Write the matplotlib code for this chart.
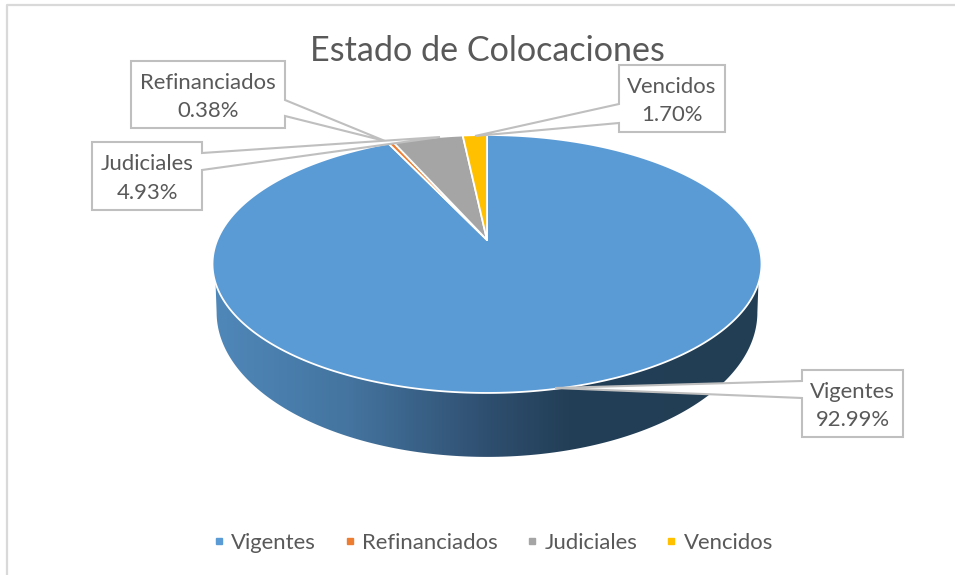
import numpy as np
import matplotlib
matplotlib.use("Agg")
import matplotlib.pyplot as plt
from matplotlib.colors import LinearSegmentedColormap
from matplotlib.lines import Line2D
from matplotlib.patches import Polygon

plt.rcParams['font.family'] = ['Lato', 'DejaVu Sans']

# Chart data
categories = ["Vigentes", "Refinanciados", "Judiciales", "Vencidos"]
shares = [92.99, 0.38, 4.93, 1.70]
colors = ["#5B9BD5", "#ED7D31", "#A5A5A5", "#FFC000"]

TEXT = "#595959"
GREY = "#BFBFBF"

# Perspective of the tilted disc, in pixels
APEX_X, APEX_Y = 487, 240
RAD_X, RAD_Y, PERSP = 269.7, 124.5, 0.186
BOTTOM_SX, BOTTOM_SY = 0.985, 1.12
BOTTOM_Y = 285.6


def disc(deg, sx=1.0, sy=1.0, y0=APEX_Y):
    # deg is clockwise from twelve o'clock
    a = np.radians(deg)
    u, v = np.sin(a), np.cos(a)
    w = 1 + PERSP * v
    return APEX_X + sx * RAD_X * u / w, y0 - sy * RAD_Y * v / w


fig = plt.figure(figsize=(9.55, 5.75), dpi=100)
ax = fig.add_axes([0, 0, 1, 1])
ax.set_xlim(0, 955)
ax.set_ylim(575, 0)
ax.axis("off")

# Frame: only the top and left edges show
ax.plot([6.5, 6.5, 955], [575, 4.5, 4.5], color="#D9D9D9", lw=1.6, zorder=1)

# Side wall of the disc, shaded from left to right
angles = np.linspace(0, 360, 1441)
tx, ty = disc(angles)
front = np.where(ty >= 283)[0]
front = front[np.argsort(tx[front])]
bx, by = disc(angles, BOTTOM_SX, BOTTOM_SY, BOTTOM_Y)
low = np.where(by >= 312)[0]
low = low[np.argsort(-bx[low])]
wall = np.vstack([np.column_stack([tx[front], ty[front]]),
                  np.column_stack([bx[low], by[low]])])
wall_patch = Polygon(wall, closed=True, facecolor="none", edgecolor="none")
ax.add_patch(wall_patch)
shade = LinearSegmentedColormap.from_list(
    "wall", [(0, "#4F88BA"), (0.25, "#44749F"), (0.5, "#2F4F70"), (0.65, "#233F57"), (1, "#223E55")])
grad = ax.imshow(np.linspace(0, 1, 256).reshape(1, -1), cmap=shade, aspect="auto",
                 extent=[212, 761, 457, 264], zorder=2)
grad.set_clip_path(wall_patch)
ax.set_xlim(0, 955)
ax.set_ylim(575, 0)

# Top face, one slice per category, clockwise from twelve o'clock
start = 0
for share, color in zip(shares, colors):
    stop = start + share / sum(shares) * 360
    a = np.linspace(start, stop, max(int(stop - start) * 4, 8))
    x, y = disc(a)
    pts = np.vstack([[APEX_X, APEX_Y], np.column_stack([x, y])])
    ax.add_patch(Polygon(pts, closed=True, facecolor=color, edgecolor="white", lw=1.3,
                         joinstyle="round", zorder=3))
    start = stop

# Callouts: box, side the pointer leaves from, pointer roots and tip
callouts = {
    "Refinanciados": ((131, 61, 285, 128), 100, 116, (385, 141)),
    "Judiciales": ((92, 142, 202, 210), 153, 170, (440, 137)),
    "Vencidos": ((619, 65, 725, 132), 104, 123, (475, 136)),
    "Vigentes": ((802, 370, 903, 437), 381, 398, (555, 388)),
}
for name, share in zip(categories, shares):
    (x0, y0, x1, y1), r0, r1, tip = callouts[name]
    if tip[0] > x1:
        pts = [(x0, y0), (x1, y0), (x1, r0), tip, (x1, r1), (x1, y1), (x0, y1)]
    else:
        pts = [(x0, y0), (x1, y0), (x1, y1), (x0, y1), (x0, r1), tip, (x0, r0)]
    ax.add_patch(Polygon(pts, closed=True, facecolor="white", edgecolor=GREY, lw=1.5, zorder=4))
    ax.text((x0 + x1) / 2, (y0 + y1) / 2 + 2.5, f"{name}\n{share:.2f}%", ha="center", va="center",
            color=TEXT, fontsize=15.9, linespacing=1.55, zorder=5)

ax.text(487.5, 51, "Estado de Colocaciones", ha="center", va="center", color=TEXT, fontsize=24.6, zorder=3)

handles = [Line2D([], [], ls="none", marker="s", ms=5, color=c) for c in colors]
ax.legend(handles, categories, ncol=4, loc="center", bbox_to_anchor=(492.5, 543),
          bbox_transform=ax.transData, frameon=False, fontsize=15.9, labelcolor=TEXT,
          handlelength=0.6, handletextpad=0.27, columnspacing=1.23)

fig.savefig("out.png", dpi=100)
